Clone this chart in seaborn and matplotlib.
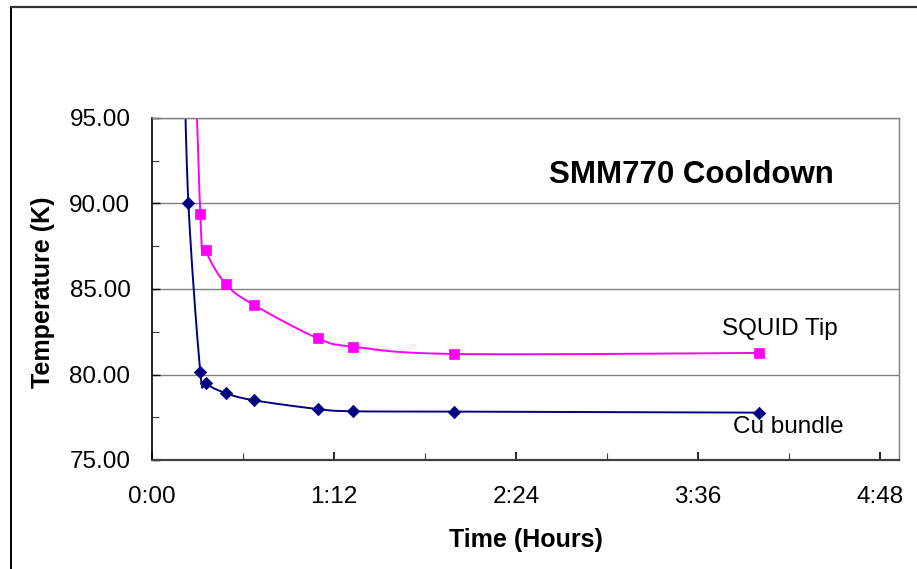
import numpy as np
import pandas as pd
import matplotlib
matplotlib.use("Agg")
import matplotlib.pyplot as plt
from matplotlib.lines import Line2D
from matplotlib.ticker import MultipleLocator, FixedLocator, FixedFormatter
import seaborn as sns

# ---- data (time in minutes, temperature in K) ----
time_cu = [12.5, 14.4, 19.1, 21.3, 29.3, 40.4, 65.5, 79.4, 119.6, 240.1]
temp_cu = [100.0, 90.0, 80.16, 79.48, 78.90, 78.49, 77.98, 77.85, 77.83, 77.77]
time_squid = [14.4, 19.1, 21.3, 29.3, 40.4, 65.5, 79.4, 119.6, 240.1]
temp_squid = [112.0, 89.37, 87.26, 85.27, 84.06, 82.12, 81.63, 81.20, 81.26]
xtick_minutes = [0, 72, 144, 216, 288]
xtick_labels = ["0:00", "1:12", "2:24", "3:36", "4:48"]
ytick_values = [75, 80, 85, 90, 95]
title_text = "SMM770 Cooldown"
series_names = ["Cu bundle", "SQUID Tip"]

sns.set_style("white")
plt.rcParams["font.family"] = ["Liberation Sans", "DejaVu Sans"]
plt.rcParams.update({"text.color": "black", "axes.labelcolor": "black",
                     "xtick.color": "black", "ytick.color": "black"})

W, H = 917, 569
fig = plt.figure(figsize=(W / 100, H / 100), dpi=100)
ax_l, ax_r, ax_t, ax_b = 152, 899, 118, 460
ax = fig.add_axes([ax_l / W, 1 - ax_b / H, (ax_r - ax_l) / W, (ax_b - ax_t) / H])

xmax = (ax_r - ax_l) * 72 / 182
ax.set_xlim(0, xmax)
ax.set_ylim(75, 95)


def excel_smooth(xs, ys, n=60):
    # parametric Bezier smoothing (Excel-like) in pixel-scaled space
    sx = (ax_r - ax_l) / xmax
    sy = (ax_b - ax_t) / 20.0
    P = np.column_stack([np.asarray(xs) * sx, np.asarray(ys) * sy])
    P = np.vstack([P[0], P, P[-1]])
    out = []
    for i in range(1, len(P) - 2):
        p0, p1, p2, p3 = P[i - 1], P[i], P[i + 1], P[i + 2]
        c1 = p1 + (p2 - p0) / 6.0
        c2 = p2 - (p3 - p1) / 6.0
        t = np.linspace(0, 1, n)[:, None]
        seg = ((1 - t) ** 3) * p1 + 3 * ((1 - t) ** 2) * t * c1 + 3 * (1 - t) * t ** 2 * c2 + t ** 3 * p2
        out.append(seg)
    out = np.vstack(out)
    return out[:, 0] / sx, out[:, 1] / sy


navy = "#000080"
magenta = "#FF00FF"

for tx, ty, col, mk, ms in [
    (time_cu, temp_cu, navy, "D", 40),
    (time_squid, temp_squid, magenta, "s", 55),
]:
    sx_, sy_ = excel_smooth(tx, ty)
    df_line = pd.DataFrame({"t": sx_, "T": sy_})
    sns.lineplot(data=df_line, x="t", y="T", sort=False, estimator=None, color=col,
                 lw=1.4, ax=ax, legend=False)
    df_pts = pd.DataFrame({"t": tx, "T": ty})
    sns.scatterplot(data=df_pts, x="t", y="T", marker=mk, s=ms, color=col,
                    edgecolor=col, linewidth=0.5, ax=ax, legend=False, zorder=5)

# grid / ticks
ax.yaxis.set_major_locator(FixedLocator(ytick_values))
ax.yaxis.set_minor_locator(MultipleLocator(2.5))
ax.set_yticklabels([f"{v:.2f}" for v in ytick_values])
ax.grid(axis="y", which="major", color="#808080", lw=1.0)
ax.grid(axis="x", visible=False)
ax.set_axisbelow(True)

ax.xaxis.set_major_locator(FixedLocator(xtick_minutes))
ax.xaxis.set_major_formatter(FixedFormatter(xtick_labels))
ax.xaxis.set_minor_locator(MultipleLocator(36))

ax.tick_params(axis="y", which="major", direction="in", length=6, width=1, color="black",
               labelcolor="black", labelsize=17.5, pad=15.5, left=True)
ax.tick_params(axis="y", which="minor", direction="in", length=5, width=0.8, color="#404040", left=True)
ax.tick_params(axis="x", which="major", direction="in", length=6, width=1.2, color="black",
               labelcolor="black", labelsize=17.5, pad=19, bottom=True)
ax.tick_params(axis="x", which="minor", direction="in", length=5, width=0.8, color="#404040", bottom=True)

for side in ["top", "right"]:
    ax.spines[side].set_visible(True)
    ax.spines[side].set_color("#808080")
    ax.spines[side].set_linewidth(1.0)
ax.spines["left"].set_color("black")
ax.spines["left"].set_linewidth(1.2)
ax.spines["bottom"].set_color("#404040")
ax.spines["bottom"].set_linewidth(1.6)

ax.set_xlabel("Time (Hours)", fontsize=18, fontweight="bold", color="black")
ax.set_ylabel("Temperature (K)", fontsize=18, fontweight="bold", color="black")
ax.xaxis.set_label_coords(0.5, -0.2)
ax.yaxis.set_label_coords(-0.13, 0.49)

ax.text(0.7215, 0.811, title_text, transform=ax.transAxes, ha="center", va="baseline",
        fontsize=22.5, fontweight="bold", color="black")
ax.text(0.841, 0.365, series_names[1], transform=ax.transAxes, ha="center", va="baseline",
        fontsize=17.5, color="black")
ax.text(0.852, 0.079, series_names[0], transform=ax.transAxes, ha="center", va="baseline",
        fontsize=17.5, color="black")

# outer chart border (left and top)
fig.add_artist(Line2D([11 / W, 11 / W], [0, 1 - 7 / H], transform=fig.transFigure,
                      color="black", lw=1.4))
fig.add_artist(Line2D([11 / W, 1], [1 - 7 / H, 1 - 7 / H], transform=fig.transFigure,
                      color="#333333", lw=1.6))

fig.savefig("out.png", dpi=100, facecolor="white")
